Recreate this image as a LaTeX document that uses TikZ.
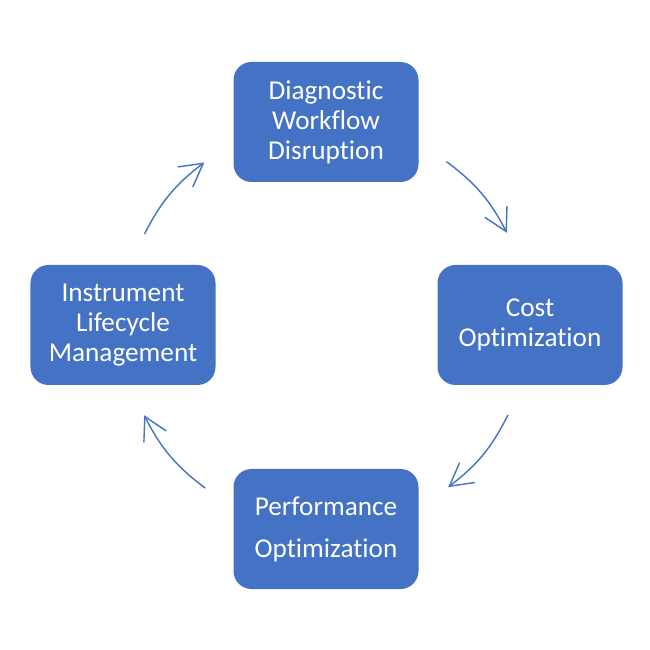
\documentclass[tikz,border=0pt]{standalone}
\usepackage{fontspec}
\setmainfont{Carlito}[Ligatures={NoCommon}]
\usetikzlibrary{arrows.meta}
\definecolor{boxblue}{HTML}{4472C4}
\tikzset{
  >={Straight Barb[length=4.5mm,width=5mm,line width=0.8pt]},
}
\tikzstyle{stage}=[fill=boxblue,rounded corners=0.36cm,minimum width=3.7cm,
  minimum height=2.4cm,text=white,align=center,
  font=\fontsize{15.5}{17}\selectfont]
\tikzstyle{cycle}=[boxblue,line width=0.8pt,->]

\begin{document}
\begin{tikzpicture}
    \useasboundingbox (-6.52,-6.5) rectangle (6.48,6.5);
    \node[stage] (diag) at (0,4.06) {Diagnostic\\Workflow\\Disruption};
    \node[stage] (cost) at (4.08,0) {Cost\\Optimization};
    \node[stage] (perf) at (0,-4.08) {Performance\\[7pt]Optimization};
    \node[stage] (life) at (-4.06,0) {Instrument\\Lifecycle\\Management};
    % arc ends
    \coordinate (a1) at (153.4:4.06);
    \coordinate (b1) at (126.8:4.06);
    \coordinate (a2) at (53.6:4.06);
    \coordinate (b2) at (27:4.06);
    \coordinate (a3) at (-26.3:4.06);
    \coordinate (b3) at (-53:4.06);
    \coordinate (a4) at (-126.5:4.06);
    \coordinate (b4) at (-153.6:4.06);
    \draw[cycle] (a1) to[bend left=13] (b1);
    \draw[cycle] (a2) to[bend left=13] (b2);
    \draw[cycle] (a3) to[bend left=13] (b3);
    \draw[cycle] (a4) to[bend left=13] (b4);
  \end{tikzpicture}
\end{document}
